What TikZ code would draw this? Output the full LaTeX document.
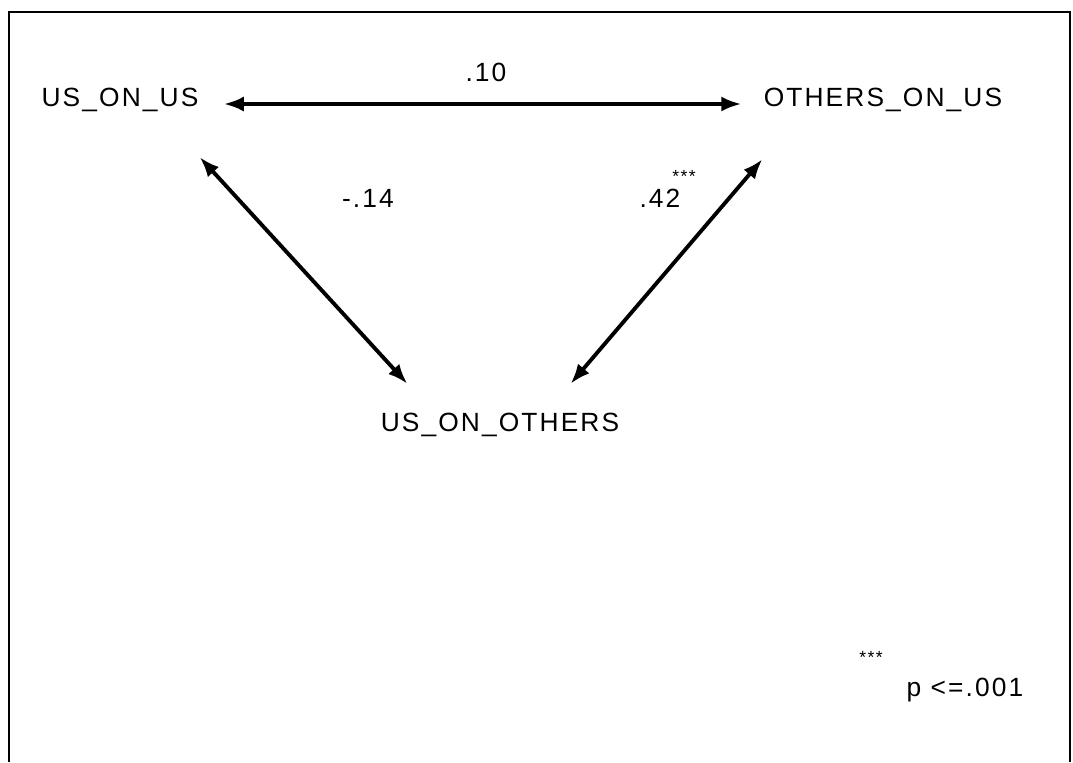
\documentclass[tikz,border=0pt]{standalone}
\usepackage{fontspec}
\setmainfont[LetterSpace=8]{Liberation Sans}
\usepackage{tikz}
\usetikzlibrary{arrows.meta, positioning, calc}

\begin{document}
\begin{tikzpicture}[
    x=0.02cm, y=-0.02cm,
    var/.style={inner sep=0pt, font=\fontsize{15}{17}\selectfont},
    coef/.style={inner sep=0pt, font=\fontsize{15}{17}\selectfont},
    stars/.style={inner sep=0pt, font=\fontsize{10}{11}\selectfont},
    biarrow/.style={draw, {Latex[length=4mm,width=3mm]}-{Latex[length=4mm,width=3mm]},
                    line width=2.2pt}
  ]
  \useasboundingbox (0,0) rectangle (1073,762);
  % frame
  \draw[line width=1.1pt] (9,762) -- (9,12) -- (1070,12) -- (1070,762);

  % variables
  \node[var] (usonus) at (120,100) {US\_ON\_US};
  \node[var] (othersonus) at (883,100) {OTHERS\_ON\_US};
  \node[var] (usonothers) at (500,425) {US\_ON\_OTHERS};

  % correlations
  \draw[biarrow] ($(usonus.east)+(25,4)$) -- ($(othersonus.west)+(-22,4)$);
  \draw[biarrow] ($(usonus.south east)+(1,45)$) -- ($(usonothers.north west)+(27,-29)$);
  \draw[biarrow] ($(othersonus.south west)+(-1,47)$) -- ($(usonothers.north east)+(-49,-29)$);

  \node[coef] (r1) at (486,72) {.10};
  \node[coef] (r2) at (368,198) {-.14};
  \node[coef] (r3) at (660,198) {.42};
  \node[stars] (s3) at (684,176) {***};

  % legend
  \node[stars] (legstars) at (871,657) {***};
  \node[coef] (legp) at (965,690) {p <=.001};
\end{tikzpicture}
\end{document}
